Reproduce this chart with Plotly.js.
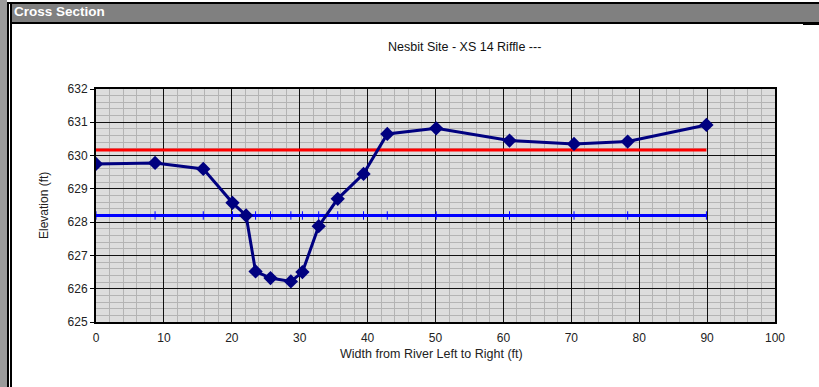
<!DOCTYPE html>
<html>
<head>
<meta charset="utf-8">
<script src="https://cdn.plot.ly/plotly-3.0.1.min.js"></script>
<style>
html,body{margin:0;padding:0;background:#fff;width:819px;height:387px;overflow:hidden;}
#wrap{position:relative;width:819px;height:387px;}
#chart{position:absolute;left:0;top:0;width:819px;height:387px;}
.deco{position:absolute;pointer-events:none;}
</style>
</head>
<body>
<div id="wrap">
<div id="chart"></div>
<div class="deco" style="left:0;top:0;width:7px;height:387px;background:#9a9a9a;"></div>
<div class="deco" style="left:7px;top:2px;width:2px;height:385px;background:#000;"></div>
<div class="deco" style="left:10px;top:2px;width:2px;height:385px;background:#000;"></div>
<div class="deco" style="left:7px;top:2px;width:812px;height:2px;background:#000;"></div>
<div class="deco" style="left:12px;top:4px;width:807px;height:18px;background:#808080;"></div>
<div class="deco" style="left:12px;top:22px;width:807px;height:2px;background:#000;"></div>
<div class="deco" style="left:803px;top:22px;width:16px;height:3px;background:#000;"></div>
<div class="deco" style="left:14px;top:4px;height:18px;line-height:18px;color:#fff;font:bold 13.5px 'Liberation Sans',Arial,sans-serif;">Cross Section</div>
</div>
<script>
// Data
var stationX = [0, 8.7, 15.8, 20.1, 22.1, 23.5, 25.7, 28.7, 30.4, 32.8, 35.6, 39.4, 42.9, 50.1, 60.9, 70.4, 78.3, 89.9];
var groundElev = [629.75, 629.78, 629.6, 628.58, 628.2, 626.52, 626.32, 626.22, 626.5, 627.88, 628.7, 629.45, 630.65, 630.82, 630.45, 630.35, 630.42, 630.92];
var waterSurface = [628.2, 628.2, 628.2, 628.2, 628.2, 628.2, 628.2, 628.2, 628.2, 628.2, 628.2, 628.2, 628.2, 628.2, 628.2, 628.2, 628.2, 628.2];
var bankfullX = [0, 89.9];
var bankfullElev = [630.17, 630.17];
var xTicks = [0, 10, 20, 30, 40, 50, 60, 70, 80, 90, 100];
var yTicks = [625, 626, 627, 628, 629, 630, 631, 632];

var fontFam = "'Liberation Sans', Arial, sans-serif";

var traces = [
  {x: bankfullX, y: bankfullElev, mode: 'lines', line: {color: '#ff0000', width: 3}, hoverinfo: 'skip'},
  {x: stationX, y: waterSurface, mode: 'lines+markers', line: {color: '#0000ff', width: 3},
   marker: {symbol: 'line-ns', size: 6, line: {color: '#0000ff', width: 1}}, hoverinfo: 'skip'},
  {x: stationX, y: groundElev, mode: 'lines+markers', line: {color: '#000080', width: 3},
   marker: {symbol: 'diamond', size: 11, color: '#000080'}, hoverinfo: 'skip'}
];

var layout = {
  width: 819, height: 387,
  margin: {l: 96, r: 44, t: 89, b: 65},
  paper_bgcolor: 'rgba(0,0,0,0)',
  plot_bgcolor: '#dddddd',
  showlegend: false,
  font: {family: fontFam, size: 12, color: '#222'},
  xaxis: {
    range: [0, 100], tickvals: xTicks, ticktext: xTicks.map(String),
    showgrid: true, gridcolor: '#111', gridwidth: 1,
    minor: {dtick: 2, showgrid: true, gridcolor: '#b4b4b4', gridwidth: 1},
    showline: true, linecolor: '#000', linewidth: 2, mirror: true,
    zeroline: false, ticks: '', ticklen: 0, ticklabelstandoff: 4,
    tickfont: {family: fontFam, size: 12, color: '#222'}
  },
  yaxis: {
    range: [625, 632], tickvals: yTicks, ticktext: yTicks.map(String),
    showgrid: true, gridcolor: '#111', gridwidth: 1,
    minor: {dtick: 0.2, showgrid: true, gridcolor: '#b4b4b4', gridwidth: 1},
    showline: true, linecolor: '#000', linewidth: 2, mirror: true,
    zeroline: false, ticks: 'outside', ticklen: 4, tickcolor: '#000',
    tickfont: {family: fontFam, size: 12, color: '#222'}
  },
  annotations: [
    {text: 'Nesbit Site - XS 14 Riffle ---', xref: 'paper', yref: 'paper', x: (465 - 96) / 679, y: (322 - 47) / 233,
     xanchor: 'center', yanchor: 'middle', showarrow: false, font: {family: fontFam, size: 12.5, color: '#111'}},
    {text: 'Width from River Left to Right (ft)', xref: 'paper', yref: 'paper', x: (431 - 96) / 679, y: (322 - 354) / 233,
     xanchor: 'center', yanchor: 'middle', showarrow: false, font: {family: fontFam, size: 12.5, color: '#222'}},
    {text: 'Elevation (ft)', xref: 'paper', yref: 'paper', x: (44 - 96) / 679, y: (322 - 205) / 233,
     xanchor: 'center', yanchor: 'middle', textangle: -90, showarrow: false, font: {family: fontFam, size: 12, color: '#222'}}
  ]
};

Plotly.newPlot('chart', traces, layout, {staticPlot: true, displayModeBar: false});
</script>
</body>
</html>
